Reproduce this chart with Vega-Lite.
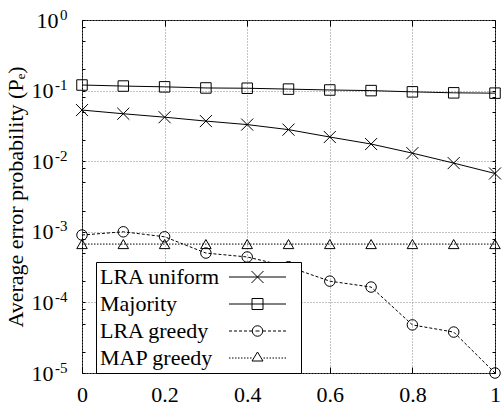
{
  "$schema": "https://vega.github.io/schema/vega-lite/v6.json",
  "width": 413,
  "height": 353,
  "autosize": "none",
  "padding": {"left": 82, "top": 20, "right": 9, "bottom": 34},
  "background": "white",
  "config": {
    "view": {"stroke": "black", "strokeWidth": 1},
    "font": "Liberation Serif",
    "axis": {
      "labelFont": "Liberation Serif",
      "labelFontSize": 22,
      "labelColor": "black",
      "titleFont": "Liberation Serif",
      "titleFontSize": 22,
      "titleFontWeight": "normal",
      "titleColor": "black",
      "domain": false,
      "tickColor": "black",
      "tickWidth": 1,
      "gridColor": "#888888",
      "gridDash": [1, 2],
      "gridWidth": 1,
      "labelOverlap": false,
      "labelFlush": false
    }
  },
  "data": {
    "values": [
      {"series": "LRA uniform", "x": 0.0, "pe": 0.053},
      {"series": "LRA uniform", "x": 0.1, "pe": 0.047},
      {"series": "LRA uniform", "x": 0.2, "pe": 0.042},
      {"series": "LRA uniform", "x": 0.3, "pe": 0.037},
      {"series": "LRA uniform", "x": 0.4, "pe": 0.033},
      {"series": "LRA uniform", "x": 0.5, "pe": 0.028},
      {"series": "LRA uniform", "x": 0.6, "pe": 0.022},
      {"series": "LRA uniform", "x": 0.7, "pe": 0.0175},
      {"series": "LRA uniform", "x": 0.8, "pe": 0.013},
      {"series": "LRA uniform", "x": 0.9, "pe": 0.0094},
      {"series": "LRA uniform", "x": 1.0, "pe": 0.0067},
      {"series": "Majority", "x": 0.0, "pe": 0.12},
      {"series": "Majority", "x": 0.1, "pe": 0.116},
      {"series": "Majority", "x": 0.2, "pe": 0.113},
      {"series": "Majority", "x": 0.3, "pe": 0.109},
      {"series": "Majority", "x": 0.4, "pe": 0.108},
      {"series": "Majority", "x": 0.5, "pe": 0.105},
      {"series": "Majority", "x": 0.6, "pe": 0.102},
      {"series": "Majority", "x": 0.7, "pe": 0.1},
      {"series": "Majority", "x": 0.8, "pe": 0.096},
      {"series": "Majority", "x": 0.9, "pe": 0.093},
      {"series": "Majority", "x": 1.0, "pe": 0.092},
      {"series": "LRA greedy", "x": 0.0, "pe": 0.0009},
      {"series": "LRA greedy", "x": 0.1, "pe": 0.001},
      {"series": "LRA greedy", "x": 0.2, "pe": 0.00085},
      {"series": "LRA greedy", "x": 0.3, "pe": 0.0005},
      {"series": "LRA greedy", "x": 0.4, "pe": 0.00044},
      {"series": "LRA greedy", "x": 0.5, "pe": 0.00032},
      {"series": "LRA greedy", "x": 0.6, "pe": 0.0002},
      {"series": "LRA greedy", "x": 0.7, "pe": 0.000165},
      {"series": "LRA greedy", "x": 0.8, "pe": 0.000048},
      {"series": "LRA greedy", "x": 0.9, "pe": 0.000038},
      {"series": "LRA greedy", "x": 1.0, "pe": 0.00001},
      {"series": "MAP greedy", "x": 0.0, "pe": 0.00067},
      {"series": "MAP greedy", "x": 0.1, "pe": 0.00067},
      {"series": "MAP greedy", "x": 0.2, "pe": 0.00067},
      {"series": "MAP greedy", "x": 0.3, "pe": 0.00067},
      {"series": "MAP greedy", "x": 0.4, "pe": 0.00067},
      {"series": "MAP greedy", "x": 0.5, "pe": 0.00067},
      {"series": "MAP greedy", "x": 0.6, "pe": 0.00067},
      {"series": "MAP greedy", "x": 0.7, "pe": 0.00067},
      {"series": "MAP greedy", "x": 0.8, "pe": 0.00067},
      {"series": "MAP greedy", "x": 0.9, "pe": 0.00067},
      {"series": "MAP greedy", "x": 1.0, "pe": 0.00067}
    ]
  },
  "layer": [
    {
      "transform": [{"filter": "datum.series === 'LRA uniform' || datum.series === 'Majority'"}],
      "mark": {"type": "line", "color": "black", "strokeWidth": 1},
      "encoding": {
        "x": {
          "field": "x",
          "type": "quantitative",
          "scale": {"domain": [0, 1], "nice": false, "zero": false},
          "axis": {
            "values": [0, 0.2, 0.4, 0.6, 0.8, 1],
            "format": "~g",
            "tickSize": -6,
            "labelPadding": 17,
            "grid": true,
            "title": null
          }
        },
        "y": {
          "field": "pe",
          "type": "quantitative",
          "scale": {"type": "log", "domain": [0.00001, 1], "nice": false},
          "axis": {
            "values": [0.00001, 0.00002, 0.00005, 0.00008, 0.0001, 0.0002, 0.0005, 0.0008, 0.001, 0.002, 0.005, 0.008, 0.01, 0.02, 0.05, 0.08, 0.1, 0.2, 0.5, 0.8, 1],
            "labelExpr": "abs(log(datum.value)/LN10 - round(log(datum.value)/LN10)) < 0.001 ? '10' : ''",
            "tickSize": -3,
            "labelPadding": {"condition": {"test": "datum.value > 0.5", "value": 27}, "value": 32},
            "grid": true,
            "gridOpacity": {"condition": {"test": "abs(log(datum.value)/LN10 - round(log(datum.value)/LN10)) < 0.001", "value": 1}, "value": 0},
            "title": "Average error probability (Pₑ)",
            "titlePadding": 4
          }
        },
        "detail": {"field": "series", "type": "nominal"}
      }
    },
    {
      "transform": [{"filter": "datum.series === 'LRA greedy'"}],
      "mark": {"type": "line", "color": "black", "strokeWidth": 1, "strokeDash": [3, 2]},
      "encoding": {
        "x": {"field": "x", "type": "quantitative", "axis": null},
        "y": {"field": "pe", "type": "quantitative", "axis": null}
      }
    },
    {
      "transform": [{"filter": "datum.series === 'MAP greedy'"}],
      "mark": {"type": "line", "color": "black", "strokeWidth": 1, "strokeDash": [1.5, 1.5]},
      "encoding": {
        "x": {"field": "x", "type": "quantitative", "axis": null},
        "y": {"field": "pe", "type": "quantitative", "axis": null}
      }
    },
    {
      "mark": {"type": "point", "filled": false, "color": "black", "strokeWidth": 1, "size": 110, "opacity": 1},
      "encoding": {
        "x": {
          "field": "x",
          "type": "quantitative",
          "axis": {"orient": "top", "values": [0, 0.2, 0.4, 0.6, 0.8, 1], "labels": false, "grid": false, "tickSize": -6, "title": null}
        },
        "y": {
          "field": "pe",
          "type": "quantitative",
          "axis": {
            "orient": "right",
            "values": [0.00001, 0.00002, 0.00005, 0.00008, 0.0001, 0.0002, 0.0005, 0.0008, 0.001, 0.002, 0.005, 0.008, 0.01, 0.02, 0.05, 0.08, 0.1, 0.2, 0.5, 0.8, 1],
            "labels": false,
            "grid": false,
            "tickSize": -3,
            "title": null
          }
        },
        "shape": {
          "field": "series",
          "type": "nominal",
          "scale": {
            "domain": ["LRA uniform", "Majority", "LRA greedy", "MAP greedy"],
            "range": ["M-1.15,-1.15L1.15,1.15M-1.15,1.15L1.15,-1.15", "square", "circle", "triangle-up"]
          },
          "legend": null
        }
      }
    },
    {
      "transform": [{"filter": "false"}],
      "mark": {"type": "point", "filled": false, "color": "black", "strokeWidth": 1, "size": 100, "opacity": 1},
      "encoding": {
        "x": {"field": "x", "type": "quantitative", "axis": null},
        "y": {
          "field": "pe",
          "type": "quantitative",
          "axis": {
            "orient": "left",
            "values": [0.00001, 0.0001, 0.001, 0.01, 0.1, 1],
            "labelExpr": "datum.value > 0.5 ? '0' : '-' + format(round(-log(datum.value)/LN10), 'd')",
            "labelFontSize": 15,
            "labelAlign": "right",
            "labelOffset": -6,
            "ticks": false,
            "grid": false,
            "labelPadding": 15,
            "title": null
          }
        },
        "shape": {
          "field": "series",
          "type": "nominal",
          "scale": {
            "domain": ["LRA uniform", "Majority", "LRA greedy", "MAP greedy"],
            "range": [
              "M23.6,0H35M28.1,-1.2L30.5,1.2M28.1,1.2L30.5,-1.2M36.8,0",
              "M23.6,0H35M28.2,-1.1H30.4V1.1H28.2ZM36.8,0",
              "M23.6,0h0.6M24.6,0h0.6M25.6,0h0.6M26.6,0h0.6M27.6,0h0.6M28.9,0h0.8M30.4,0h0.6M31.4,0h0.6M32.4,0h0.6M33.4,0h0.6M34.4,0h0.6M30.35,0A1.05,1.05,0,1,1,28.25,0A1.05,1.05,0,1,1,30.35,0ZM36.8,0",
              "M23.6,0h0.3M24.2,0h0.3M24.8,0h0.3M25.4,0h0.3M26,0h0.3M26.6,0h0.3M27.2,0h0.3M27.8,0h0.3M30.5,0h0.3M31.1,0h0.3M31.7,0h0.3M32.3,0h0.3M32.9,0h0.3M33.5,0h0.3M34.1,0h0.3M34.7,0h0.3M29.3,-1.2L30.4,0.6L28.2,0.6ZM36.8,0"
            ]
          },
          "legend": {
            "title": null,
            "orient": "none",
            "legendX": 14,
            "legendY": 242,
            "labelFont": "Liberation Serif",
            "labelFontSize": 22,
            "labelColor": "black",
            "symbolSize": 100,
            "symbolStrokeWidth": 1,
            "symbolStrokeColor": "black",
            "symbolFillColor": "transparent",
            "symbolOpacity": 1,
            "labelOffset": -22,
            "symbolOffset": 0,
            "padding": 4,
            "rowPadding": 5,
            "strokeColor": "black",
            "fillColor": "white"
          }
        }
      }
    }
  ],
  "resolve": {
    "axis": {"x": "independent", "y": "independent"},
    "scale": {"shape": "independent"}
  }
}
